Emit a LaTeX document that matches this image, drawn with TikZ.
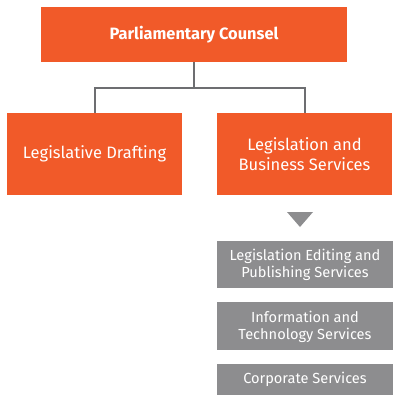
\documentclass[tikz,border=0pt]{standalone}
\usepackage{fontspec}
\setmainfont{Fira Sans}
\usetikzlibrary{positioning}
\definecolor{laranja}{HTML}{F15A29}
\definecolor{cinzabox}{HTML}{8D8D8F}
\definecolor{cinzalinha}{HTML}{6D6E71}

\begin{document}
\begin{tikzpicture}[
    x=1pt, y=1pt,
    node distance=14pt,
    chefe/.style={fill=laranja, text=white, minimum width=306pt, minimum height=55pt, align=center, font=\fontsize{16.4}{20}\selectfont\bfseries, inner sep=0pt},
    divisao/.style={fill=laranja, text=white, minimum width=175pt, minimum height=82pt, align=center, font=\fontsize{16.5}{20}\selectfont, inner sep=0pt},
    servico/.style={fill=cinzabox, text=white, minimum width=176pt, align=center, font=\fontsize{14.6}{17}\selectfont, inner sep=0pt},
    ligacao/.style={draw=cinzalinha, line width=2pt}
  ]
    \useasboundingbox (0,0) rectangle (400,-413);
    \node[chefe] (pc) at (194,-34.5) {Parliamentary Counsel};
    \node[divisao] (ld) at (94.5,-154) {Legislative Drafting};
    \node[divisao] (lbs) at (304.5,-154) {Legislation and\\Business Services};
    \draw[ligacao] (pc.south) -- ++(0,-26) -| (ld.north);
    \draw[ligacao] (pc.south) -- ++(0,-26) -| (lbs.north);
    \fill[cinzabox] (287,-212) -- (313,-212) -- (300,-227) -- cycle;
    \node[servico, minimum height=47pt] (leps) at (305,-264.5) {Legislation Editing and\\Publishing Services};
    \node[servico, minimum height=48pt, below=of leps] (its) {Information and\\Technology Services};
    \node[servico, minimum height=31pt, below=13pt of its] (cs) {Corporate Services};
  \end{tikzpicture}
\end{document}
